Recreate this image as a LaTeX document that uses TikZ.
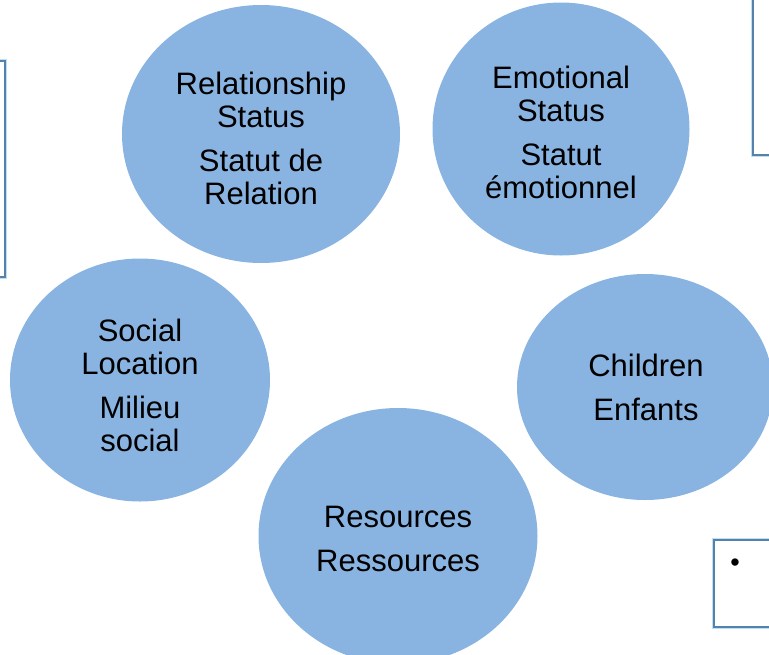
\documentclass[tikz,border=0pt]{standalone}
\usepackage{fontspec}
\setmainfont{Liberation Sans}
\usetikzlibrary{shapes.geometric}
\usetikzlibrary{positioning}
\definecolor{mblue}{RGB}{137, 180, 225}
\definecolor{mframe}{RGB}{84, 130, 172}
\definecolor{mhalo}{RGB}{190, 225, 240}

\tikzset{
  topic/.style={ellipse, fill=mblue, inner sep=0pt},
  words/.style={align=center, inner sep=0pt, font=\fontsize{31}{33}\selectfont},
  frame/.style={draw=mframe, line width=1.6pt, fill=white,
    preaction={draw=mhalo, line width=3.2pt}},
}

\begin{document}
\begin{tikzpicture}[x=1pt, y=-1pt]
    \useasboundingbox (0, 0) rectangle (769, 654);
    \clip (0, 0) rectangle (769, 654);

    % text boxes cut off at the edges
    \draw [frame] (-20, 61) rectangle (5, 277);
    \draw [frame] (753, -20) rectangle (790, 155);
    \draw [frame] (714, 540) rectangle (790, 627);
    \node (dot) at (735, 565) {\fontsize{27}{27}\selectfont\textbullet};

    \node [topic, minimum width=278pt, minimum height=258pt] (rel) at (261, 134) {};
    \node [topic, minimum width=257pt, minimum height=253pt] (emo) at (561, 129) {};
    \node [topic, minimum width=260pt, minimum height=243pt] (soc) at (140, 380) {};
    \node [topic, minimum width=256pt, minimum height=226pt] (chi) at (645, 387) {};
    \node [topic, minimum width=279pt, minimum height=256pt] (res) at (398, 536) {};

    \node [words] (rel-t) at ([yshift=-4pt]rel)
      {Relationship\\Status\\[11pt]Statut de\\Relation};
    \node [words] (emo-t) at ([yshift=-3pt]emo)
      {Emotional\\Status\\[11pt]Statut\\émotionnel};
    \node [words] (soc-t) at ([yshift=-5pt]soc)
      {Social\\Location\\[11pt]Milieu\\social};
    \node [words] (chi-t) at ([xshift=1pt]chi)
      {Children\\[11pt]Enfants};
    \node [words] (res-t) at ([yshift=-3pt]res)
      {Resources\\[11pt]Ressources};
  \end{tikzpicture}
\end{document}
